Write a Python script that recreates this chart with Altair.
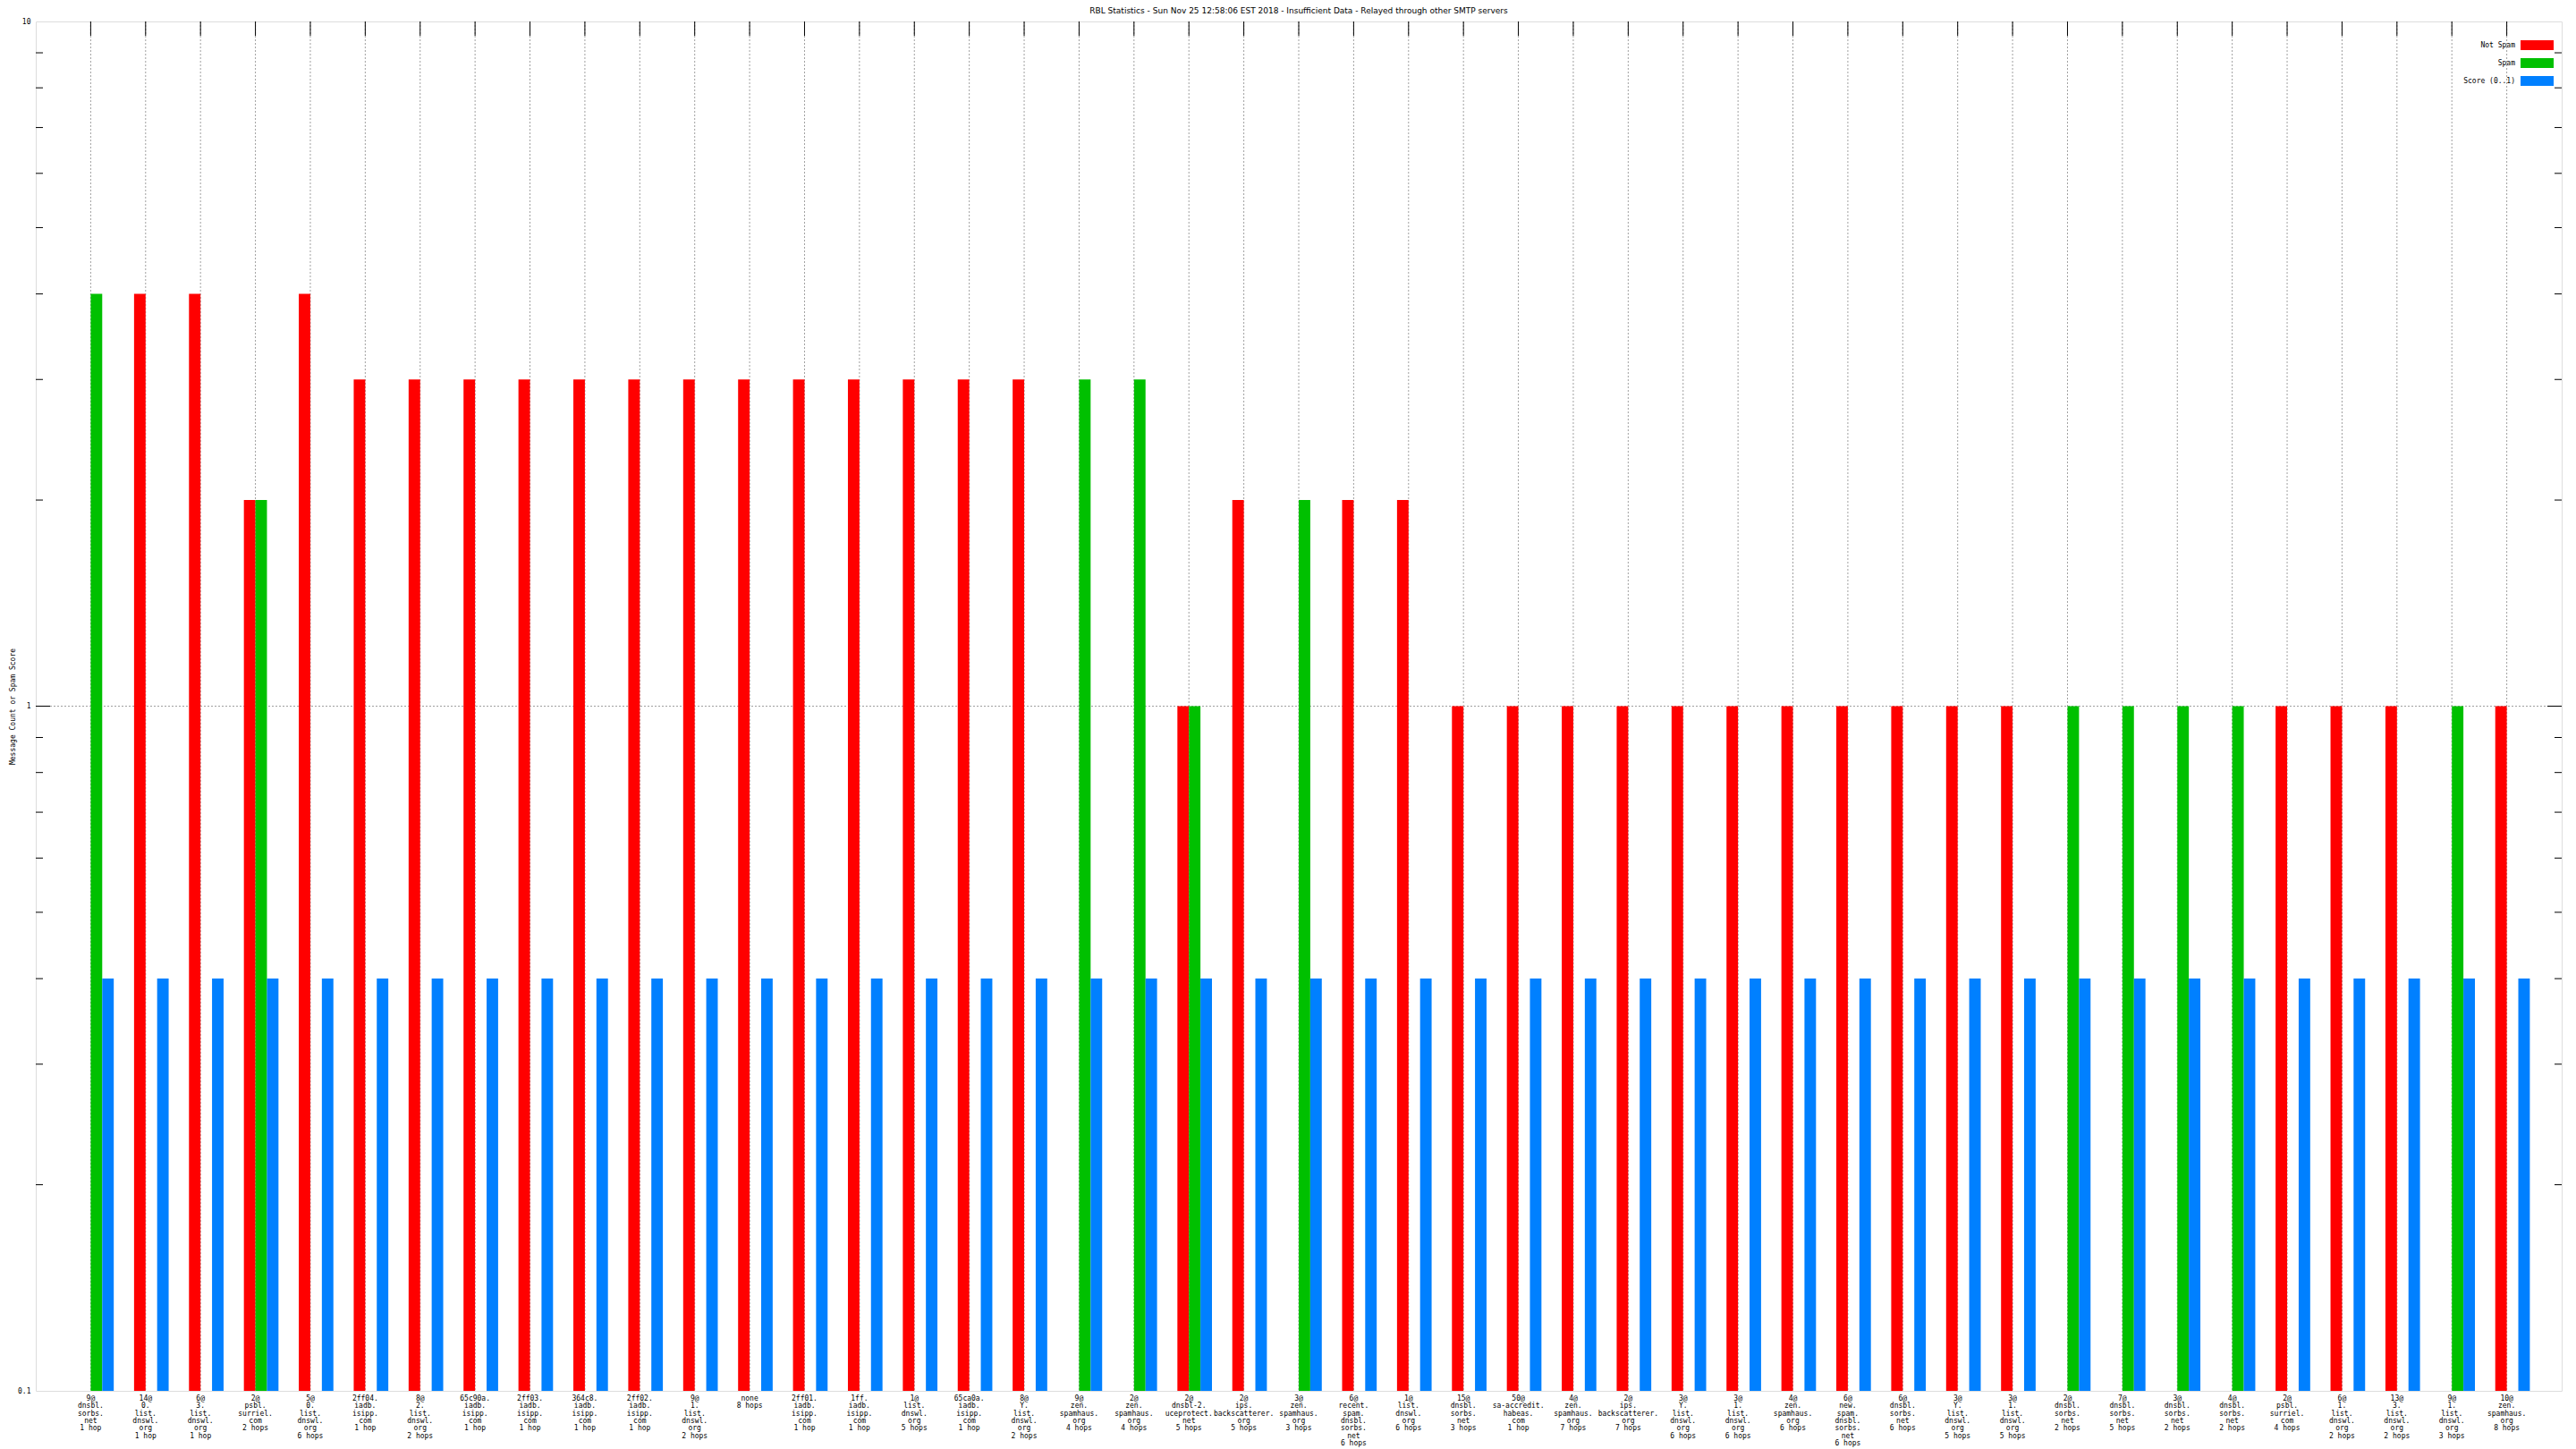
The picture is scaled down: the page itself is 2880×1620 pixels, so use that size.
import altair as alt
import pandas as pd

W, H = 2824, 1531

TITLE = "RBL Statistics - Sun Nov 25 12:58:06 EST 2018 - Insufficient Data - Relayed through other SMTP servers"

labels = [
    "9@|dnsbl.|sorbs.|net|1 hop",
    "14@|0.|list.|dnswl.|org|1 hop",
    "6@|3.|list.|dnswl.|org|1 hop",
    "2@|psbl.|surriel.|com|2 hops",
    "5@|0.|list.|dnswl.|org|6 hops",
    "2ff04.|iadb.|isipp.|com|1 hop",
    "8@|2.|list.|dnswl.|org|2 hops",
    "65c90a.|iadb.|isipp.|com|1 hop",
    "2ff03.|iadb.|isipp.|com|1 hop",
    "364c8.|iadb.|isipp.|com|1 hop",
    "2ff02.|iadb.|isipp.|com|1 hop",
    "9@|1.|list.|dnswl.|org|2 hops",
    "none|8 hops",
    "2ff01.|iadb.|isipp.|com|1 hop",
    "1ff.|iadb.|isipp.|com|1 hop",
    "1@|list.|dnswl.|org|5 hops",
    "65ca0a.|iadb.|isipp.|com|1 hop",
    "8@|Y.|list.|dnswl.|org|2 hops",
    "9@|zen.|spamhaus.|org|4 hops",
    "2@|zen.|spamhaus.|org|4 hops",
    "2@|dnsbl-2.|uceprotect.|net|5 hops",
    "2@|ips.|backscatterer.|org|5 hops",
    "3@|zen.|spamhaus.|org|3 hops",
    "6@|recent.|spam.|dnsbl.|sorbs.|net|6 hops",
    "1@|list.|dnswl.|org|6 hops",
    "15@|dnsbl.|sorbs.|net|3 hops",
    "50@|sa-accredit.|habeas.|com|1 hop",
    "4@|zen.|spamhaus.|org|7 hops",
    "2@|ips.|backscatterer.|org|7 hops",
    "3@|Y.|list.|dnswl.|org|6 hops",
    "3@|1.|list.|dnswl.|org|6 hops",
    "4@|zen.|spamhaus.|org|6 hops",
    "6@|new.|spam.|dnsbl.|sorbs.|net|6 hops",
    "6@|dnsbl.|sorbs.|net|6 hops",
    "3@|Y.|list.|dnswl.|org|5 hops",
    "3@|1.|list.|dnswl.|org|5 hops",
    "2@|dnsbl.|sorbs.|net|2 hops",
    "7@|dnsbl.|sorbs.|net|5 hops",
    "3@|dnsbl.|sorbs.|net|2 hops",
    "4@|dnsbl.|sorbs.|net|2 hops",
    "2@|psbl.|surriel.|com|4 hops",
    "6@|1.|list.|dnswl.|org|2 hops",
    "13@|3.|list.|dnswl.|org|2 hops",
    "9@|1.|list.|dnswl.|org|3 hops",
    "10@|zen.|spamhaus.|org|8 hops",
]

not_spam = [0, 4, 4, 2, 4, 3, 3, 3, 3, 3, 3, 3, 3, 3, 3, 3, 3, 3, 0, 0,
            1, 2, 0, 2, 2, 1, 1, 1, 1, 1, 1, 1, 1, 1, 1, 1, 0, 0, 0, 0,
            1, 1, 1, 0, 1]
spam = [4, 0, 0, 2, 0, 0, 0, 0, 0, 0, 0, 0, 0, 0, 0, 0, 0, 0, 3, 3,
        1, 0, 2, 0, 0, 0, 0, 0, 0, 0, 0, 0, 0, 0, 0, 0, 1, 1, 1, 1,
        0, 0, 0, 1, 0]
score = [0.4] * 45

series_names = ["Not Spam", "Spam", "Score (0..1)"]
series_colors = ["#ff0000", "#00c000", "#0080ff"]
slot = 0.21
series_offset = {"Not Spam": -slot, "Spam": 0.0, "Score (0..1)": slot}

rows = []
for i in range(len(labels)):
    for name, vals in zip(series_names, [not_spam, spam, score]):
        v = vals[i]
        if v > 0:
            x0 = i + series_offset[name]
            rows.append({"idx": i, "series": name, "value": v,
                         "x0": x0, "x1": x0 + slot, "base": 0.1})
bars_df = pd.DataFrame(rows)

cat_df = pd.DataFrame({"idx": list(range(len(labels))),
                       "label": [l.replace("|", "\n") for l in labels]})

minor_vals = [0.2, 0.3, 0.4, 0.5, 0.6, 0.7, 0.8, 0.9, 2, 3, 4, 5, 6, 7, 8, 9]
major_vals = [1]

xscale = alt.Scale(domain=[-1, 45], nice=False, zero=False)
yscale = alt.Scale(type="log", domain=[0.1, 10], nice=False)
cscale = alt.Scale(domain=series_names, range=series_colors)
MONO = "DejaVu Sans Mono"

y_axis = alt.Axis(values=[0.1, 1, 10], format="~g", domain=False, ticks=False,
                  grid=False, labelFont=MONO, labelFontSize=8, labelPadding=6,
                  labelColor="black", title="Message Count or Spam Score",
                  titleFont=MONO, titleFontSize=8, titleFontWeight="normal",
                  titlePadding=1, titleColor="black")

vgrid = alt.Chart(cat_df).mark_rule(color="#a0a0a0", strokeDash=[2, 2], strokeWidth=1).encode(
    x=alt.X("idx:Q", scale=xscale, axis=None),
    y=alt.value(0), y2=alt.value(H))

hgrid = alt.Chart(pd.DataFrame({"v": [1]})).mark_rule(
    color="#a0a0a0", strokeDash=[2, 2], strokeWidth=1).encode(
    y=alt.Y("v:Q", scale=yscale, axis=y_axis),
    x=alt.value(0), x2=alt.value(W))

bars = alt.Chart(bars_df).mark_rect().encode(
    x=alt.X("x0:Q", scale=xscale, axis=None),
    x2="x1:Q",
    y=alt.Y("value:Q", scale=yscale, axis=y_axis),
    y2="base:Q",
    color=alt.Color("series:N", scale=cscale, legend=None))

top_ticks = alt.Chart(cat_df).mark_rule(color="black", strokeWidth=1).encode(
    x=alt.X("idx:Q", scale=xscale, axis=None),
    y=alt.value(0), y2=alt.value(16))


def ytick_layer(vals, x_from, x_to):
    return alt.Chart(pd.DataFrame({"v": vals})).mark_rule(color="black", strokeWidth=1).encode(
        y=alt.Y("v:Q", scale=yscale, axis=y_axis), x=alt.value(x_from), x2=alt.value(x_to))


left_major = ytick_layer(major_vals, 0, 16)
left_minor = ytick_layer(minor_vals, 0, 8)
right_major = ytick_layer(major_vals, W, W - 16)
right_minor = ytick_layer(minor_vals, W, W - 8)

xlabels = alt.Chart(cat_df).mark_text(
    font=MONO, fontSize=8, baseline="top", align="center", lineBreak="\n",
    lineHeight=8.3, color="black").encode(
    x=alt.X("idx:Q", scale=xscale, axis=None),
    y=alt.value(H + 5),
    text="label:N")

title_layer = alt.Chart(pd.DataFrame({"t": [TITLE]})).mark_text(
    font="DejaVu Sans", fontSize=9, align="center", baseline="middle", color="black").encode(
    x=alt.value(W / 2), y=alt.value(-12), text="t:N")

legend_layers = []
for k, (name, col) in enumerate(zip(series_names, series_colors)):
    ldf = pd.DataFrame({"series": [name]})
    yk = 26.5 + 20 * k
    legend_layers.append(alt.Chart(ldf).mark_text(
        font=MONO, fontSize=8, align="right", baseline="middle", color="black").encode(
        x=alt.value(W - 52), y=alt.value(yk), text="series:N"))
    legend_layers.append(alt.Chart(ldf).mark_rect(height=11, width=37).encode(
        x=alt.value(W - 27.5), y=alt.value(yk),
        color=alt.Color("series:N", scale=cscale, legend=None)))

chart = alt.layer(
    vgrid, hgrid, bars, top_ticks, left_major, left_minor, right_major, right_minor,
    xlabels, title_layer, *legend_layers
).properties(
    width=W, height=H,
    autosize=alt.AutoSizeParams(type="none"),
    padding={"left": 32, "top": 16, "right": 8, "bottom": 64},
).configure_view(stroke="black", strokeWidth=1).configure(background="white")

chart.save("out.html", embed_options={"renderer": "svg", "actions": False})
